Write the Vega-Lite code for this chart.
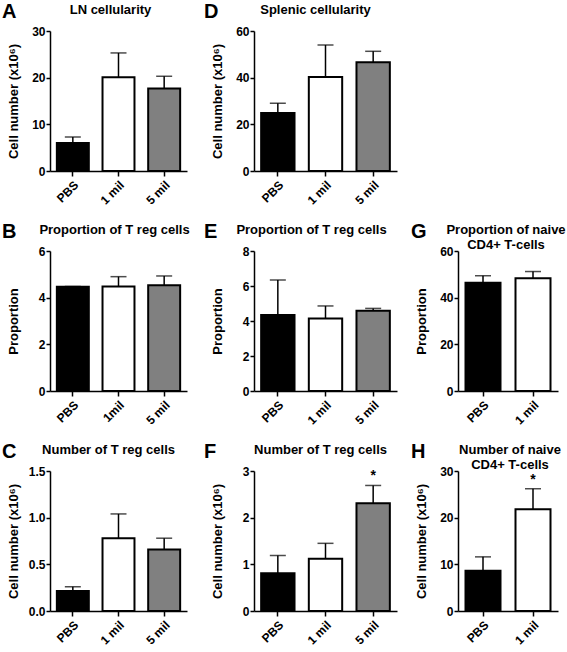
{
  "$schema": "https://vega.github.io/schema/vega-lite/v6.json",
  "padding": {"left": 2, "top": 2, "right": 2, "bottom": 2},
  "config": {
    "font": "Liberation Sans",
    "view": {"stroke": null},
    "axis": {"domainColor": "black", "domainWidth": 1.5, "tickColor": "black", "tickWidth": 1.5, "tickSize": 5, "labelColor": "black", "labelFont": "Liberation Sans", "labelFontWeight": "bold", "labelFontSize": 12, "titleFont": "Liberation Sans", "titleFontWeight": "bold", "titleFontSize": 13, "titleColor": "black", "grid": false},
    "axisY": {"minExtent": 26, "maxExtent": 26, "titlePadding": 4, "labelPadding": 1, "tickSize": 4},
    "axisX": {"labelAngle": -45, "labelPadding": 3, "title": null},
    "title": {"font": "Liberation Sans", "fontWeight": "bold", "color": "black"}
  },
  "columns": 3,
  "align": "each",
  "spacing": {"row": 15, "column": 14},
  "concat": [
    {
      "title": {"text": "A", "anchor": "start", "fontSize": 20, "offset": -18, "dx": -5},
      "vconcat": [{
        "width": 137, "height": 140,
        "title": {"text": "LN cellularity", "fontSize": 13, "offset": 8, "frame": "group", "dx": -8},
        "data": {"values": [
          {"group": "PBS", "mean": 6.0, "upper": 7.3, "sig": ""},
          {"group": "1 mil", "mean": 20.1, "upper": 25.3, "sig": ""},
          {"group": "5 mil", "mean": 17.7, "upper": 20.3, "sig": ""}
        ]},
        "encoding": {
          "x": {"field": "group", "type": "nominal", "sort": null, "scale": {"paddingInner": 0.3, "paddingOuter": 0.15}},
          "y": {"field": "mean", "type": "quantitative", "scale": {"domain": [0, 30], "nice": false}, "axis": {"values": [0, 10, 20, 30], "format": "d", "title": "Cell number (x10⁶)"}}
        },
        "layer": [
          {"mark": {"type": "bar", "stroke": "black", "strokeWidth": 2}, "encoding": {"fill": {"field": "group", "type": "nominal", "scale": {"domain": ["PBS", "1 mil", "1mil", "5 mil"], "range": ["black", "white", "white", "#808080"]}, "legend": null}}},
          {"mark": {"type": "rule", "color": "black", "strokeWidth": 1.5}, "encoding": {"y2": {"field": "upper"}}},
          {"mark": {"type": "tick", "orient": "horizontal", "color": "black", "thickness": 1.5, "size": 16}, "encoding": {"y": {"field": "upper", "type": "quantitative"}}}
        ]
      }]
    },
    {
      "title": {"text": "D", "anchor": "start", "fontSize": 20, "offset": -18, "dx": -7},
      "vconcat": [{
        "width": 143, "height": 140,
        "title": {"text": "Splenic cellularity", "fontSize": 13, "offset": 8, "frame": "group", "dx": -10},
        "data": {"values": [
          {"group": "PBS", "mean": 24.9, "upper": 29.0, "sig": ""},
          {"group": "1 mil", "mean": 40.3, "upper": 54.0, "sig": ""},
          {"group": "5 mil", "mean": 46.6, "upper": 51.3, "sig": ""}
        ]},
        "encoding": {
          "x": {"field": "group", "type": "nominal", "sort": null, "scale": {"paddingInner": 0.3, "paddingOuter": 0.15}},
          "y": {"field": "mean", "type": "quantitative", "scale": {"domain": [0, 60], "nice": false}, "axis": {"values": [0, 20, 40, 60], "format": "d", "title": "Cell number (x10⁶)"}}
        },
        "layer": [
          {"mark": {"type": "bar", "stroke": "black", "strokeWidth": 2}, "encoding": {"fill": {"field": "group", "type": "nominal", "scale": {"domain": ["PBS", "1 mil", "1mil", "5 mil"], "range": ["black", "white", "white", "#808080"]}, "legend": null}}},
          {"mark": {"type": "rule", "color": "black", "strokeWidth": 1.5}, "encoding": {"y2": {"field": "upper"}}},
          {"mark": {"type": "tick", "orient": "horizontal", "color": "black", "thickness": 1.5, "size": 16}, "encoding": {"y": {"field": "upper", "type": "quantitative"}}}
        ]
      }]
    },
    {
      "width": 100, "height": 140,
      "data": {"values": [{"t": ""}]},
      "mark": {"type": "text"},
      "encoding": {"text": {"field": "t"}}
    },
    {
      "title": {"text": "B", "anchor": "start", "fontSize": 20, "offset": -18, "dx": -5},
      "vconcat": [{
        "width": 137, "height": 140,
        "title": {"text": "Proportion of T reg cells", "fontSize": 13, "offset": 8, "frame": "group", "dx": -4},
        "data": {"values": [
          {"group": "PBS", "mean": 4.47, "upper": 4.48, "sig": ""},
          {"group": "1mil", "mean": 4.48, "upper": 4.90, "sig": ""},
          {"group": "5 mil", "mean": 4.53, "upper": 4.93, "sig": ""}
        ]},
        "encoding": {
          "x": {"field": "group", "type": "nominal", "sort": null, "scale": {"paddingInner": 0.3, "paddingOuter": 0.15}},
          "y": {"field": "mean", "type": "quantitative", "scale": {"domain": [0, 6], "nice": false}, "axis": {"values": [0, 2, 4, 6], "format": "d", "title": "Proportion"}}
        },
        "layer": [
          {"mark": {"type": "bar", "stroke": "black", "strokeWidth": 2}, "encoding": {"fill": {"field": "group", "type": "nominal", "scale": {"domain": ["PBS", "1 mil", "1mil", "5 mil"], "range": ["black", "white", "white", "#808080"]}, "legend": null}}},
          {"mark": {"type": "rule", "color": "black", "strokeWidth": 1.5}, "encoding": {"y2": {"field": "upper"}}},
          {"mark": {"type": "tick", "orient": "horizontal", "color": "black", "thickness": 1.5, "size": 16}, "encoding": {"y": {"field": "upper", "type": "quantitative"}}}
        ]
      }]
    },
    {
      "title": {"text": "E", "anchor": "start", "fontSize": 20, "offset": -18, "dx": -7},
      "vconcat": [{
        "width": 143, "height": 140,
        "title": {"text": "Proportion of T reg cells", "fontSize": 13, "offset": 8, "frame": "group", "dx": -14},
        "data": {"values": [
          {"group": "PBS", "mean": 4.34, "upper": 6.34, "sig": ""},
          {"group": "1 mil", "mean": 4.14, "upper": 4.86, "sig": ""},
          {"group": "5 mil", "mean": 4.58, "upper": 4.72, "sig": ""}
        ]},
        "encoding": {
          "x": {"field": "group", "type": "nominal", "sort": null, "scale": {"paddingInner": 0.3, "paddingOuter": 0.15}},
          "y": {"field": "mean", "type": "quantitative", "scale": {"domain": [0, 8], "nice": false}, "axis": {"values": [0, 2, 4, 6, 8], "format": "d", "title": "Proportion"}}
        },
        "layer": [
          {"mark": {"type": "bar", "stroke": "black", "strokeWidth": 2}, "encoding": {"fill": {"field": "group", "type": "nominal", "scale": {"domain": ["PBS", "1 mil", "1mil", "5 mil"], "range": ["black", "white", "white", "#808080"]}, "legend": null}}},
          {"mark": {"type": "rule", "color": "black", "strokeWidth": 1.5}, "encoding": {"y2": {"field": "upper"}}},
          {"mark": {"type": "tick", "orient": "horizontal", "color": "black", "thickness": 1.5, "size": 16}, "encoding": {"y": {"field": "upper", "type": "quantitative"}}}
        ]
      }]
    },
    {
      "title": {"text": "G", "anchor": "start", "fontSize": 20, "offset": -18, "dx": -4},
      "vconcat": [{
        "width": 100, "height": 140,
        "title": {"text": ["Proportion of naive", "CD4+ T-cells"], "fontSize": 13, "lineHeight": 15, "offset": -7, "frame": "group", "dx": -2},
        "data": {"values": [
          {"group": "PBS", "mean": 46.4, "upper": 49.4, "sig": ""},
          {"group": "1 mil", "mean": 48.3, "upper": 51.2, "sig": ""}
        ]},
        "encoding": {
          "x": {"field": "group", "type": "nominal", "sort": null, "scale": {"paddingInner": 0.3, "paddingOuter": 0.15}},
          "y": {"field": "mean", "type": "quantitative", "scale": {"domain": [0, 60], "nice": false}, "axis": {"values": [0, 20, 40, 60], "format": "d", "title": "Proportion"}}
        },
        "layer": [
          {"mark": {"type": "bar", "stroke": "black", "strokeWidth": 2}, "encoding": {"fill": {"field": "group", "type": "nominal", "scale": {"domain": ["PBS", "1 mil", "1mil", "5 mil"], "range": ["black", "white", "white", "#808080"]}, "legend": null}}},
          {"mark": {"type": "rule", "color": "black", "strokeWidth": 1.5}, "encoding": {"y2": {"field": "upper"}}},
          {"mark": {"type": "tick", "orient": "horizontal", "color": "black", "thickness": 1.5, "size": 16}, "encoding": {"y": {"field": "upper", "type": "quantitative"}}}
        ]
      }]
    },
    {
      "title": {"text": "C", "anchor": "start", "fontSize": 20, "offset": -18, "dx": -5},
      "vconcat": [{
        "width": 137, "height": 140,
        "title": {"text": "Number of T reg cells", "fontSize": 13, "offset": 8, "frame": "group", "dx": -10},
        "data": {"values": [
          {"group": "PBS", "mean": 0.215, "upper": 0.26, "sig": ""},
          {"group": "1 mil", "mean": 0.78, "upper": 1.04, "sig": ""},
          {"group": "5 mil", "mean": 0.66, "upper": 0.78, "sig": ""}
        ]},
        "encoding": {
          "x": {"field": "group", "type": "nominal", "sort": null, "scale": {"paddingInner": 0.3, "paddingOuter": 0.15}},
          "y": {"field": "mean", "type": "quantitative", "scale": {"domain": [0, 1.5], "nice": false}, "axis": {"values": [0, 0.5, 1.0, 1.5], "format": ".1f", "title": "Cell number (x10⁶)"}}
        },
        "layer": [
          {"mark": {"type": "bar", "stroke": "black", "strokeWidth": 2}, "encoding": {"fill": {"field": "group", "type": "nominal", "scale": {"domain": ["PBS", "1 mil", "1mil", "5 mil"], "range": ["black", "white", "white", "#808080"]}, "legend": null}}},
          {"mark": {"type": "rule", "color": "black", "strokeWidth": 1.5}, "encoding": {"y2": {"field": "upper"}}},
          {"mark": {"type": "tick", "orient": "horizontal", "color": "black", "thickness": 1.5, "size": 16}, "encoding": {"y": {"field": "upper", "type": "quantitative"}}}
        ]
      }]
    },
    {
      "title": {"text": "F", "anchor": "start", "fontSize": 20, "offset": -18, "dx": -7},
      "vconcat": [{
        "width": 143, "height": 140,
        "title": {"text": "Number of T reg cells", "fontSize": 13, "offset": 8, "frame": "group", "dx": -5},
        "data": {"values": [
          {"group": "PBS", "mean": 0.81, "upper": 1.19, "sig": ""},
          {"group": "1 mil", "mean": 1.12, "upper": 1.45, "sig": ""},
          {"group": "5 mil", "mean": 2.31, "upper": 2.69, "sig": "*"}
        ]},
        "encoding": {
          "x": {"field": "group", "type": "nominal", "sort": null, "scale": {"paddingInner": 0.3, "paddingOuter": 0.15}},
          "y": {"field": "mean", "type": "quantitative", "scale": {"domain": [0, 3], "nice": false}, "axis": {"values": [0, 1, 2, 3], "format": "d", "title": "Cell number (x10⁶)"}}
        },
        "layer": [
          {"mark": {"type": "bar", "stroke": "black", "strokeWidth": 2}, "encoding": {"fill": {"field": "group", "type": "nominal", "scale": {"domain": ["PBS", "1 mil", "1mil", "5 mil"], "range": ["black", "white", "white", "#808080"]}, "legend": null}}},
          {"mark": {"type": "rule", "color": "black", "strokeWidth": 1.5}, "encoding": {"y2": {"field": "upper"}}},
          {"mark": {"type": "tick", "orient": "horizontal", "color": "black", "thickness": 1.5, "size": 16}, "encoding": {"y": {"field": "upper", "type": "quantitative"}}},
          {"mark": {"type": "text", "baseline": "bottom", "dy": -2, "fontSize": 14, "fontWeight": "bold", "color": "black"}, "encoding": {"y": {"field": "upper", "type": "quantitative"}, "text": {"field": "sig"}}}
        ]
      }]
    },
    {
      "title": {"text": "H", "anchor": "start", "fontSize": 20, "offset": -18, "dx": -4},
      "vconcat": [{
        "width": 100, "height": 140,
        "title": {"text": ["Number of naive", "CD4+ T-cells"], "fontSize": 13, "lineHeight": 15, "offset": -7, "frame": "group", "dx": 2},
        "data": {"values": [
          {"group": "PBS", "mean": 8.6, "upper": 11.6, "sig": ""},
          {"group": "1 mil", "mean": 21.8, "upper": 26.2, "sig": "*"}
        ]},
        "encoding": {
          "x": {"field": "group", "type": "nominal", "sort": null, "scale": {"paddingInner": 0.3, "paddingOuter": 0.15}},
          "y": {"field": "mean", "type": "quantitative", "scale": {"domain": [0, 30], "nice": false}, "axis": {"values": [0, 10, 20, 30], "format": "d", "title": "Cell number (x10⁶)"}}
        },
        "layer": [
          {"mark": {"type": "bar", "stroke": "black", "strokeWidth": 2}, "encoding": {"fill": {"field": "group", "type": "nominal", "scale": {"domain": ["PBS", "1 mil", "1mil", "5 mil"], "range": ["black", "white", "white", "#808080"]}, "legend": null}}},
          {"mark": {"type": "rule", "color": "black", "strokeWidth": 1.5}, "encoding": {"y2": {"field": "upper"}}},
          {"mark": {"type": "tick", "orient": "horizontal", "color": "black", "thickness": 1.5, "size": 16}, "encoding": {"y": {"field": "upper", "type": "quantitative"}}},
          {"mark": {"type": "text", "baseline": "bottom", "dy": -2, "fontSize": 14, "fontWeight": "bold", "color": "black"}, "encoding": {"y": {"field": "upper", "type": "quantitative"}, "text": {"field": "sig"}}}
        ]
      }]
    }
  ]
}
